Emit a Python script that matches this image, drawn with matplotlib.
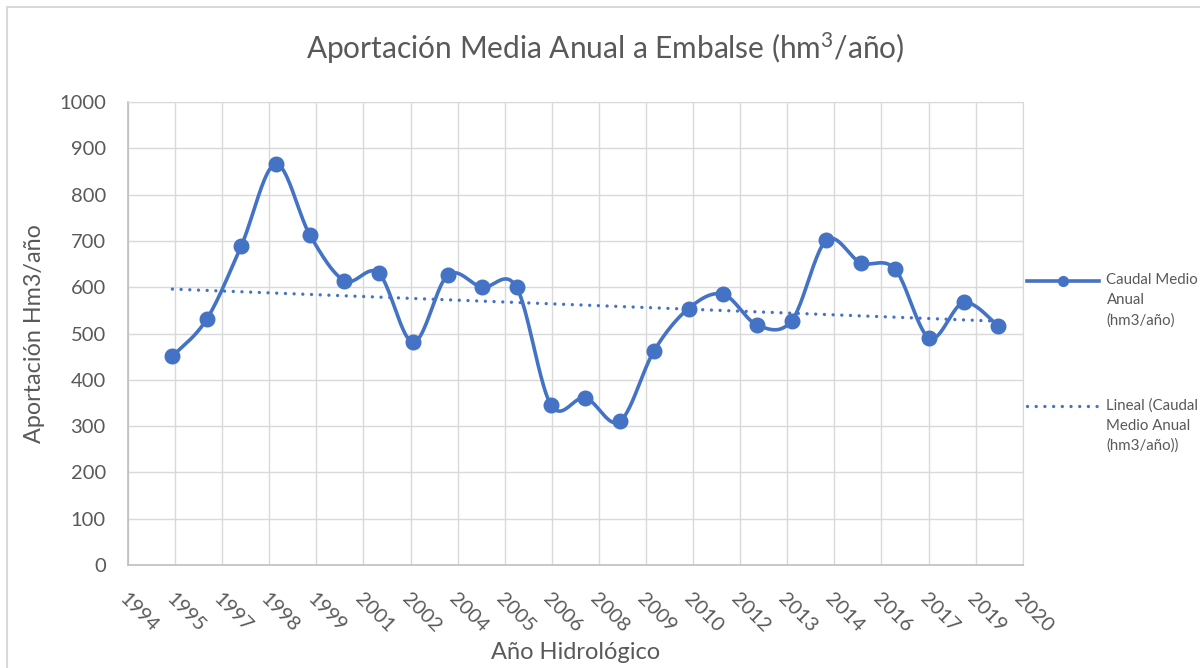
import numpy as np
import matplotlib
matplotlib.use('Agg')
import matplotlib.pyplot as plt
from matplotlib.legend_handler import HandlerLine2D
from matplotlib.lines import Line2D
from matplotlib.patches import Rectangle

plt.rcParams['font.family'] = ['Lato', 'DejaVu Sans']
plt.rcParams['mathtext.fontset'] = 'custom'
plt.rcParams['mathtext.rm'] = 'Lato'
plt.rcParams['mathtext.default'] = 'regular'

# annual inflow per hydrological year
years = np.arange(1995, 2020)
caudal = [451, 531, 689, 866, 712, 614, 630, 481, 626, 600, 600, 346, 361,
          310, 463, 554, 585, 518, 528, 701, 653, 639, 490, 567, 516]
tick_labels = ['1994', '1995', '1997', '1998', '1999', '2001', '2002', '2004',
               '2005', '2006', '2008', '2009', '2010', '2012', '2013', '2014',
               '2016', '2017', '2019', '2020']
y_ticks = list(range(0, 1001, 100))
x_min, x_max = 1993.71, 2019.71

BLUE = '#4472C4'
GREY_TXT = '#595959'
GRID = '#D9D9D9'


def smooth(x, y, n=24):
    # catmull-rom spline through the points (same look as excel smoothed lines)
    x = np.asarray(x, float)
    y = np.asarray(y, float)
    px = np.r_[x[0], x, x[-1]]
    py = np.r_[y[0], y, y[-1]]
    t = np.linspace(0, 1, n, endpoint=False)
    xs, ys = [], []
    for i in range(1, len(px) - 2):
        for p, out in ((px, xs), (py, ys)):
            p0, p1, p2, p3 = p[i - 1], p[i], p[i + 1], p[i + 2]
            out.append(0.5 * (2 * p1 + (p2 - p0) * t
                              + (2 * p0 - 5 * p1 + 4 * p2 - p3) * t ** 2
                              + (-p0 + 3 * p1 - 3 * p2 + p3) * t ** 3))
    xs.append([x[-1]])
    ys.append([y[-1]])
    return np.concatenate(xs), np.concatenate(ys)


class TopLineHandler(HandlerLine2D):
    # put the legend sample next to the first line of a wrapped label
    def __init__(self, shift, **kw):
        super().__init__(**kw)
        self.shift = shift

    def create_artists(self, legend, orig_handle, xdescent, ydescent,
                       width, height, fontsize, trans):
        arts = super().create_artists(legend, orig_handle, xdescent, ydescent,
                                      width, height, fontsize, trans)
        for a in arts:
            a.set_ydata(np.asarray(a.get_ydata()) + self.shift)
        return arts


fig = plt.figure(figsize=(12, 6.68), dpi=100)
ax = fig.add_axes([0.10667, 0.15419, 0.74558, 0.69311])

sx, sy = smooth(years, caudal)
ax.plot(sx, sy, color=BLUE, lw=2.6, solid_capstyle='round', zorder=3)
ax.plot(years, caudal, 'o', color=BLUE, ms=10.5, zorder=4)

# linear trend
coef = np.polyfit(years, caudal, 1)
ax.plot(years, np.polyval(coef, years), color=BLUE, lw=2.4,
        linestyle=(0, (0.01, 2.6)), dash_capstyle='round', zorder=2)

ax.set_xlim(x_min, x_max)
ax.set_ylim(0, 1000)
ax.set_xticks(np.linspace(x_min, x_max, len(tick_labels)))
ax.set_xticklabels(tick_labels, rotation=-45, ha='left', va='top',
                   rotation_mode='anchor')
ax.set_yticks(y_ticks)
ax.tick_params(axis='both', length=0, labelsize=14.5, labelcolor=GREY_TXT)
ax.tick_params(axis='x', pad=18)
ax.tick_params(axis='y', pad=16)
ax.grid(True, color=GRID, lw=1.0)
ax.set_axisbelow(True)
for side in ('top', 'right'):
    ax.spines[side].set_color(GRID)
for side in ('left', 'bottom'):
    ax.spines[side].set_color('#BFBFBF')
    ax.spines[side].set_linewidth(1.2)

ax.set_xlabel('Año Hidrológico', fontsize=17, color=GREY_TXT)
ax.xaxis.set_label_coords(0.5, -0.188)
ax.xaxis.label.set_va('center')
ax.set_ylabel('Aportación Hm3/año', fontsize=16.8, color=GREY_TXT)
ax.yaxis.set_label_coords(-0.104, 0.5)
ax.yaxis.label.set_va('center')

fig.text(0.504, 1 - 48 / 668, 'Aportación Media Anual a Embalse (hm$^{3}$/año)',
         ha='center', va='center', fontsize=21.5, color=GREY_TXT)

h1 = Line2D([], [], color=BLUE, lw=2.6, marker='o', ms=7, markevery=[1])
h2 = Line2D([], [], color=BLUE, lw=2.4, linestyle=(0, (0.01, 2.6)),
            dash_capstyle='round')
leg = fig.legend([h1, h2],
                 ['Caudal Medio\nAnual\n(hm3/año)',
                  'Lineal (Caudal\nMedio Anual\n(hm3/año))'],
                 loc='upper left', bbox_to_anchor=(1027 / 1200, 1 - 273 / 668),
                 frameon=False, fontsize=10.8, labelcolor=GREY_TXT,
                 handlelength=4.8, handletextpad=0.5, borderpad=0,
                 borderaxespad=0, labelspacing=4.7,
                 handler_map={h1: TopLineHandler(14.4), h2: TopLineHandler(14.4)})
for txt in leg.get_texts():
    txt.set_linespacing(1.55)

# chart area frame
fig.patches.append(Rectangle((7 / 1200, -0.1), 1.2, 1.1 - 7 / 668,
                             transform=fig.transFigure, fill=False,
                             edgecolor=GRID, lw=1.5))

fig.savefig('out.png', dpi=100, facecolor='white')
